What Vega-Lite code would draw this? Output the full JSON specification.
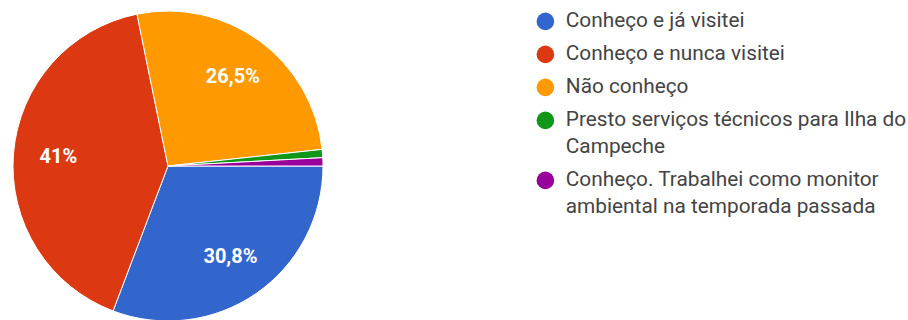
{
  "$schema": "https://vega.github.io/schema/vega-lite/v6.json",
  "width": 336,
  "height": 320,
  "padding": {"left": 0, "top": 6, "right": 0, "bottom": 0},
  "background": "white",
  "data": {
    "values": [
      {"answer": "Conheço e já visitei", "count": 36, "order": 1, "label": "30,8%"},
      {"answer": "Conheço e nunca visitei", "count": 48, "order": 2, "label": "41%"},
      {"answer": "Não conheço", "count": 31, "order": 3, "label": "26,5%"},
      {"answer": "Presto serviços técnicos para Ilha do Campeche", "count": 1, "order": 4, "label": ""},
      {"answer": "Conheço. Trabalhei como monitor ambiental na temporada passada", "count": 1, "order": 5, "label": ""}
    ]
  },
  "encoding": {
    "theta": {"field": "count", "type": "quantitative", "stack": true, "scale": {"range": [1.5707963, 7.8539816]}},
    "order": {"field": "order", "type": "quantitative", "sort": "ascending"}
  },
  "layer": [
    {
      "mark": {"type": "arc", "outerRadius": 155, "stroke": "white", "strokeWidth": 1},
      "encoding": {
        "color": {
          "field": "answer",
          "type": "nominal",
          "scale": {
            "domain": ["Conheço e já visitei", "Conheço e nunca visitei", "Não conheço", "Presto serviços técnicos para Ilha do Campeche", "Conheço. Trabalhei como monitor ambiental na temporada passada"],
            "range": ["#3366cc", "#dc3912", "#ff9900", "#109618", "#990099"]
          },
          "legend": {
            "title": null,
            "orient": "none",
            "legendX": 535,
            "legendY": 5,
            "padding": 0,
            "symbolType": "circle",
            "symbolSize": 310,
            "symbolStrokeWidth": 0,
            "labelFont": "Roboto",
            "labelFontSize": 20.8,
            "labelColor": "#444444",
            "labelOffset": 10,
            "labelLimit": 420,
            "rowPadding": 11,
            "labelExpr": "datum.label == 'Presto serviços técnicos para Ilha do Campeche' ? ['Presto serviços técnicos para Ilha do', 'Campeche'] : datum.label == 'Conheço. Trabalhei como monitor ambiental na temporada passada' ? ['Conheço. Trabalhei como monitor', 'ambiental na temporada passada'] : datum.label"
          }
        }
      }
    },
    {
      "mark": {"type": "text", "radius": 110, "font": "Roboto", "fontSize": 20, "fontWeight": "bold", "fill": "white"},
      "encoding": {
        "text": {"field": "label", "type": "nominal"}
      }
    }
  ],
  "config": {"view": {"stroke": null}, "style": {"guide-label": {"lineHeight": 27}}}
}
